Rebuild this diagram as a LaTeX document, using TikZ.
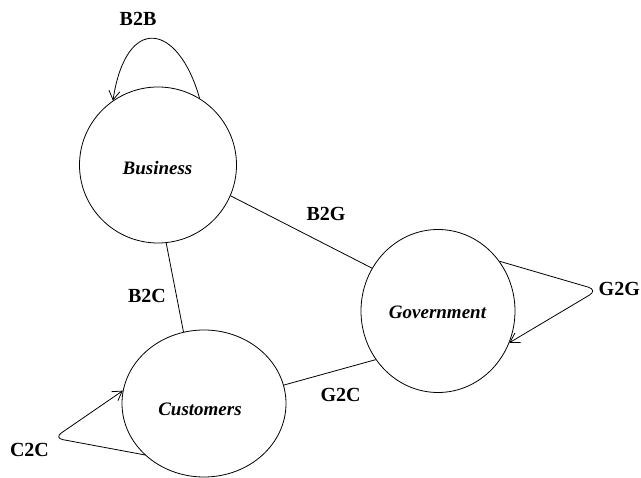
\documentclass[tikz,border=0pt]{standalone}
\usepackage{fontspec}
\setmainfont{Liberation Serif}
\usetikzlibrary{shapes.geometric,arrows.meta}
\begin{document}
\begin{tikzpicture}[x=1pt,y=-1pt,
  party/.style={draw,ellipse,inner sep=0pt,line width=0.8pt},
  nametext/.style={font=\fontsize{19}{22}\selectfont\bfseries\itshape,inner sep=0pt},
  reltext/.style={font=\fontsize{20}{24}\selectfont\bfseries,inner sep=0pt},
  link/.style={line width=0.8pt},
  arr/.style={line width=0.8pt,-{Straight Barb[length=9pt,width=11pt,line width=0.8pt]}}]
\useasboundingbox (0,0) rectangle (641,478);
\fill[white] (0,0) rectangle (641,478);
% parties
\node[party,minimum width=157pt,minimum height=156pt] (bus) at (158,165) {};
\node[party,minimum width=154pt,minimum height=163pt] (gov) at (438,311) {};
\node[party,minimum width=164pt,minimum height=147pt] (cust) at (204,403.5) {};
\node[nametext] (bustext) at (157.5,168.5) {Business};
\node[nametext] (govtext) at (437.5,312) {Government};
\node[nametext] (custtext) at (200,409.5) {Customers};
% relations between parties
\draw[link] (bus.-84) -- (cust.106);
\draw[link] (bus.-23.7) -- (gov.147.5);
\draw[link] (cust.13.5) -- (gov.218.4);
% self loops
\draw[arr] (bus.58) .. controls (178,22) and (126,14) .. (bus.125);
\coordinate (g2gtip) at (598,290);
\draw[arr,rounded corners=10pt] (gov.39) -- (g2gtip) -- (gov.-24);
\coordinate (c2ctip) at (54,438);
\draw[arr,rounded corners=9pt] (cust.221) -- (c2ctip) -- (cust.171);
% labels
\node[reltext] (b2b) at (138,18.5) {B2B};
\node[reltext] (b2g) at (326,213.5) {B2G};
\node[reltext] (b2c) at (147,296) {B2C};
\node[reltext] (g2c) at (340.5,394.5) {G2C};
\node[reltext] (c2c) at (29.5,449.5) {C2C};
\node[reltext,anchor=east] (g2g) at (640,289) {G2G};
\end{tikzpicture}
\end{document}
